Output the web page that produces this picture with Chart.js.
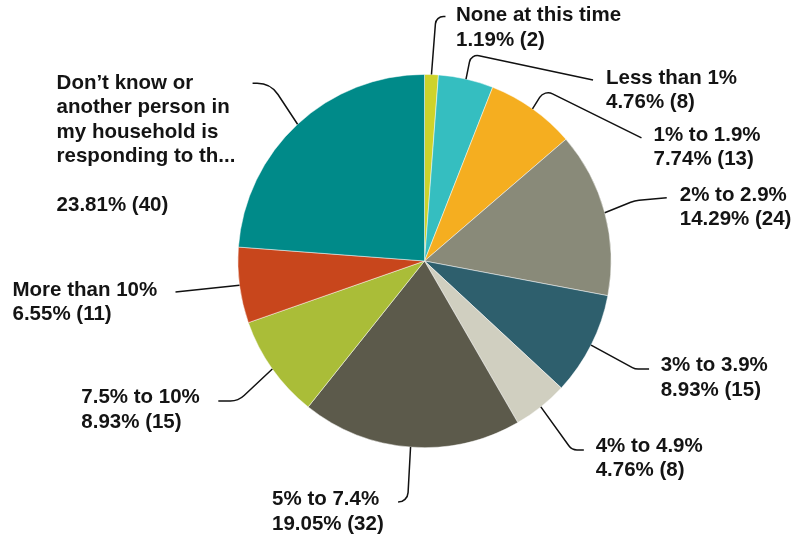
<!DOCTYPE html>
<html>
<head>
<meta charset="utf-8">
<script src="https://cdn.jsdelivr.net/npm/chart.js@4/dist/chart.umd.min.js"></script>
<style>
  html, body { margin: 0; padding: 0; background: #ffffff; }
  #wrap { width: 796px; height: 539px; position: relative; }
</style>
</head>
<body>
<div id="wrap"><canvas id="c"></canvas></div>
<script>
// ---- data ----
const categories = [
  "None at this time",
  "Less than 1%",
  "1% to 1.9%",
  "2% to 2.9%",
  "3% to 3.9%",
  "4% to 4.9%",
  "5% to 7.4%",
  "7.5% to 10%",
  "More than 10%",
  "Don\u2019t know or another person in my household is responding to this survey"
];
const displayLines = [
  ["None at this time"],
  ["Less than 1%"],
  ["1% to 1.9%"],
  ["2% to 2.9%"],
  ["3% to 3.9%"],
  ["4% to 4.9%"],
  ["5% to 7.4%"],
  ["7.5% to 10%"],
  ["More than 10%"],
  ["Don\u2019t know or", "another person in", "my household is", "responding to th...", ""]
];
const counts = [2, 8, 13, 24, 15, 8, 32, 15, 11, 40];
const colors = ["#cdd32b", "#35bec0", "#f5ae20", "#898a79", "#2e5f6d",
                "#d0cfc0", "#5c5a4b", "#aabd38", "#c8461c", "#008a89"];

// ---- label layout: offsets relative to the slice's outer mid-point ----
// corner: bend point of leader (null = straight), end: leader end, text: left / first-line centre
const leaderLayout = [
  { corner: [4.5, -58], end: [14, -58], text: [24.5, -59], r: 8 },
  { corner: [5, -25],   end: [127, 1],  text: [140, -1],   r: 8 },
  { corner: [12, -19],  end: [109, 29], text: [121, 26.5], r: 10 },
  { corner: [30, -12],  end: [62, -15], text: [75, -17.6], r: 30 },
  { corner: [44, 24],   end: [58, 24],  text: [69.6, 20.7], r: 12 },
  { corner: [31, 43],   end: [43, 43],  text: [54.8, 39],  r: 10 },
  { corner: [-3, 55],   end: [-12, 55], text: [-138.5, 52.5], r: 10 },
  { corner: [-34, 32],  end: [-54, 32], text: [-191, 28.7], r: 20 },
  { corner: null,       end: [-64, 6.6], text: [-227, 4.6], r: 0 },
  { corner: [-27, -41], end: [-45, -41], text: [-241, -41], r: 25 }
];
const FONT = "bold 20.5px 'Liberation Sans', Arial, sans-serif";
const LINE_H = 24.5;

const total = counts.reduce((a, b) => a + b, 0);

const labelPlugin = {
  id: 'leaderLabels',
  afterDatasetsDraw(chart) {
    const ctx = chart.ctx;
    const meta = chart.getDatasetMeta(0);
    ctx.save();
    meta.data.forEach((arc, i) => {
      const p = arc.getProps(['x', 'y', 'startAngle', 'endAngle', 'outerRadius'], true);
      const mid = (p.startAngle + p.endAngle) / 2;
      const ax = p.x + Math.cos(mid) * p.outerRadius;
      const ay = p.y + Math.sin(mid) * p.outerRadius;
      const L = leaderLayout[i];
      ctx.beginPath();
      ctx.strokeStyle = '#111111';
      ctx.lineWidth = 1.5;
      ctx.moveTo(ax, ay);
      if (L.corner) {
        ctx.arcTo(ax + L.corner[0], ay + L.corner[1], ax + L.end[0], ay + L.end[1], L.r);
      }
      ctx.lineTo(ax + L.end[0], ay + L.end[1]);
      ctx.stroke();

      const pct = (counts[i] / total * 100).toFixed(2) + '% (' + counts[i] + ')';
      const lines = displayLines[i].concat([pct]);
      ctx.font = FONT;
      ctx.fillStyle = '#141414';
      ctx.textAlign = 'left';
      ctx.textBaseline = 'middle';
      lines.forEach((t, k) => {
        ctx.fillText(t, ax + L.text[0], ay + L.text[1] + k * LINE_H);
      });
    });
    ctx.restore();
  }
};

new Chart(document.getElementById('c'), {
  type: 'pie',
  data: {
    labels: categories,
    datasets: [{
      data: counts,
      backgroundColor: colors,
      borderColor: 'rgba(255,255,255,0.6)',
      borderWidth: 0.8
    }]
  },
  options: {
    responsive: true,
    maintainAspectRatio: false,
    animation: false,
    layout: { padding: { left: 237, right: 184, top: 74, bottom: 91 } },
    plugins: {
      legend: { display: false },
      tooltip: { enabled: false }
    }
  },
  plugins: [labelPlugin]
});
</script>
</body>
</html>
